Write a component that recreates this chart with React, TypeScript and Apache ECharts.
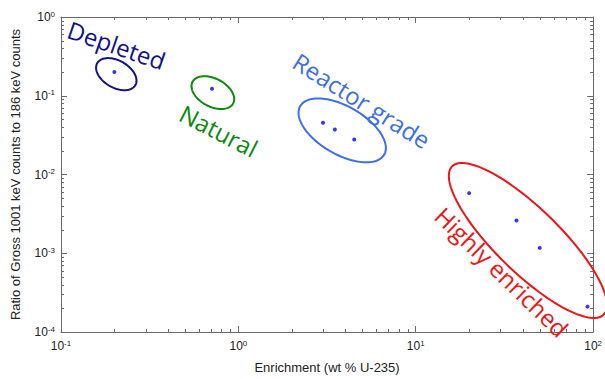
import React, { useEffect, useRef } from "react";
import * as echarts from "echarts";

// ---- data ----
const GROUP_NAMES = ["Depleted", "Natural", "Reactor grade", "Highly enriched"];
const DEPLETED_X = [0.2];
const DEPLETED_Y = [0.2];
const NATURAL_X = [0.71];
const NATURAL_Y = [0.123];
const REACTOR_X = [3.0, 3.5, 4.5];
const REACTOR_Y = [0.0455, 0.0373, 0.0279];
const HEU_X = [20, 37, 50, 93];
const HEU_Y = [0.0058, 0.0026, 0.00117, 0.00021];

const X_TICK_EXPONENTS = [-1, 0, 1, 2];
const Y_TICK_EXPONENTS = [-4, -3, -2, -1, 0];
const MINOR_MULTIPLIERS = [2, 3, 4, 5, 6, 7, 8, 9];

// ---- annotation layout (anchors in data space, sizes in px) ----
const ANNOTATIONS = [
  { cx: 0.205, cy: 0.188, a: 22, b: 13.5, angle: 30, lx: 0.206, ly: 0.44, textAngle: 19, color: "#12128e" },
  { cx: 0.718, cy: 0.1096, a: 23, b: 14, angle: 28, lx: 0.776, ly: 0.036, textAngle: 27, color: "#0b8a0b" },
  { cx: 3.85, cy: 0.0363, a: 48.5, b: 24, angle: 30, lx: 4.97, ly: 0.0874, textAngle: 32, color: "#3d6ef0" },
  { cx: 42.9, cy: 0.001452, a: 106, b: 32, angle: 44.3, lx: 30.6, ly: 0.00058, textAngle: 44, color: "#f01414" },
];

const AXIS_COLOR = "#6a6a6a";
const LABEL_COLOR = "#222";
const SANS = '"Liberation Sans", Arial, Helvetica, sans-serif';

const X_MIN = Math.pow(10, X_TICK_EXPONENTS[0]);
const X_MAX = Math.pow(10, X_TICK_EXPONENTS[X_TICK_EXPONENTS.length - 1]);
const Y_MIN = Math.pow(10, Y_TICK_EXPONENTS[0]);
const Y_MAX = Math.pow(10, Y_TICK_EXPONENTS[Y_TICK_EXPONENTS.length - 1]);

function zip(xs: number[], ys: number[]) {
  return xs.map((x, i) => [x, ys[i]]);
}

const expLabel = (v: number) => `{b|10}{s|${Math.round(Math.log10(v))}}`;
const rich = {
  b: { fontSize: 12, fontFamily: SANS, color: LABEL_COLOR, lineHeight: 14 },
  s: { fontSize: 8, fontFamily: SANS, color: LABEL_COLOR, lineHeight: 8, verticalAlign: "top" as const },
};

export default function App() {
  const ref = useRef<HTMLDivElement>(null);
  useEffect(() => {
    if (!ref.current) return;
    const chart = echarts.init(ref.current, null, { renderer: "svg" });

    const minorData: number[][] = [];
    X_TICK_EXPONENTS.slice(0, -1).forEach((e) => {
      MINOR_MULTIPLIERS.forEach((m) => minorData.push([m * Math.pow(10, e), Y_MIN, 0]));
    });
    Y_TICK_EXPONENTS.slice(0, -1).forEach((e) => {
      MINOR_MULTIPLIERS.forEach((m) => minorData.push([X_MIN, m * Math.pow(10, e), 1]));
    });

    const baseAxis = {
      type: "log" as const,
      logBase: 10,
      axisLine: { show: true, lineStyle: { color: AXIS_COLOR, width: 1 } },
      axisTick: { show: true, inside: true, length: 6, lineStyle: { color: AXIS_COLOR } },
      splitLine: { show: false },
      minorTick: { show: false },
    };

    chart.setOption({
      animation: false,
      backgroundColor: "#ffffff",
      grid: { left: 61, right: 1, top: 17, bottom: 37, containLabel: false },
      xAxis: [
        {
          ...baseAxis,
          min: X_MIN,
          max: X_MAX,
          splitNumber: 3,
          position: "bottom",
          axisLabel: { formatter: expLabel, rich, margin: 7 },
          name: "Enrichment (wt % U-235)",
          nameLocation: "middle",
          nameGap: 29,
          nameTextStyle: { fontSize: 13, fontFamily: SANS, color: LABEL_COLOR },
        },
        {
          ...baseAxis,
          min: X_MIN,
          max: X_MAX,
          splitNumber: 3,
          position: "top",
          axisLabel: { show: false },
        },
      ],
      yAxis: [
        {
          ...baseAxis,
          min: Y_MIN,
          max: Y_MAX,
          splitNumber: 4,
          position: "left",
          axisLabel: { formatter: expLabel, rich, margin: 6 },
          name: "Ratio of Gross 1001 keV counts to 186 keV counts",
          nameLocation: "middle",
          nameGap: 39,
          nameTextStyle: { fontSize: 13, fontFamily: SANS, color: LABEL_COLOR },
        },
        {
          ...baseAxis,
          min: Y_MIN,
          max: Y_MAX,
          splitNumber: 4,
          position: "right",
          axisLabel: { show: false },
        },
      ],
      series: [
        {
          type: "custom",
          name: "minor ticks",
          silent: true,
          clip: false,
          data: minorData,
          renderItem: (params: any, api: any) => {
            const cs = params.coordSys;
            const kind = api.value(2);
            const p = api.coord([api.value(0), api.value(1)]);
            const st = { stroke: AXIS_COLOR, lineWidth: 1 };
            if (kind === 0) {
              const x = Math.round(p[0]) + 0.5;
              return {
                type: "group",
                children: [
                  { type: "line", shape: { x1: x, y1: cs.y + cs.height, x2: x, y2: cs.y + cs.height - 3 }, style: st },
                  { type: "line", shape: { x1: x, y1: cs.y, x2: x, y2: cs.y + 3 }, style: st },
                ],
              };
            }
            const y = Math.round(p[1]) + 0.5;
            return {
              type: "group",
              children: [
                { type: "line", shape: { x1: cs.x, y1: y, x2: cs.x + 3, y2: y }, style: st },
                { type: "line", shape: { x1: cs.x + cs.width, y1: y, x2: cs.x + cs.width - 3, y2: y }, style: st },
              ],
            };
          },
        },
        {
          type: "custom",
          name: "groups",
          silent: true,
          clip: false,
          data: ANNOTATIONS.map((a) => [a.cx, a.cy]),
          renderItem: (params: any, api: any) => {
            const i = params.dataIndex;
            const ann = ANNOTATIONS[i];
            const c = api.coord([api.value(0), api.value(1)]);
            const th = (ann.angle * Math.PI) / 180;
            const pts: number[][] = [];
            const N = 120;
            for (let k = 0; k < N; k++) {
              const t = (k / N) * 2 * Math.PI;
              pts.push([
                c[0] + ann.a * Math.cos(t) * Math.cos(th) - ann.b * Math.sin(t) * Math.sin(th),
                c[1] + ann.a * Math.cos(t) * Math.sin(th) + ann.b * Math.sin(t) * Math.cos(th),
              ]);
            }
            const lp = api.coord([ann.lx, ann.ly]);
            return {
              type: "group",
              children: [
                { type: "polygon", shape: { points: pts }, style: { fill: "none", stroke: ann.color, lineWidth: 2 } },
                {
                  type: "text",
                  x: lp[0],
                  y: lp[1],
                  rotation: (-ann.textAngle * Math.PI) / 180,
                  style: {
                    text: GROUP_NAMES[i],
                    fill: ann.color,
                    fontSize: 24,
                    fontFamily: '"Open Sans", "Noto Sans", sans-serif',
                    align: "center",
                    verticalAlign: "middle",
                  },
                },
              ],
            };
          },
        },
        {
          type: "scatter",
          symbol: "circle",
          symbolSize: 4,
          itemStyle: { color: "#0000ff" },
          data: [
            ...zip(DEPLETED_X, DEPLETED_Y),
            ...zip(NATURAL_X, NATURAL_Y),
            ...zip(REACTOR_X, REACTOR_Y),
            ...zip(HEU_X, HEU_Y),
          ],
        },
      ],
    });
    return () => chart.dispose();
  }, []);

  return (
    <div
      ref={ref}
      style={{ position: "fixed", left: 0, top: 0, width: 605, height: 379, background: "#fff" }}
    />
  );
}
